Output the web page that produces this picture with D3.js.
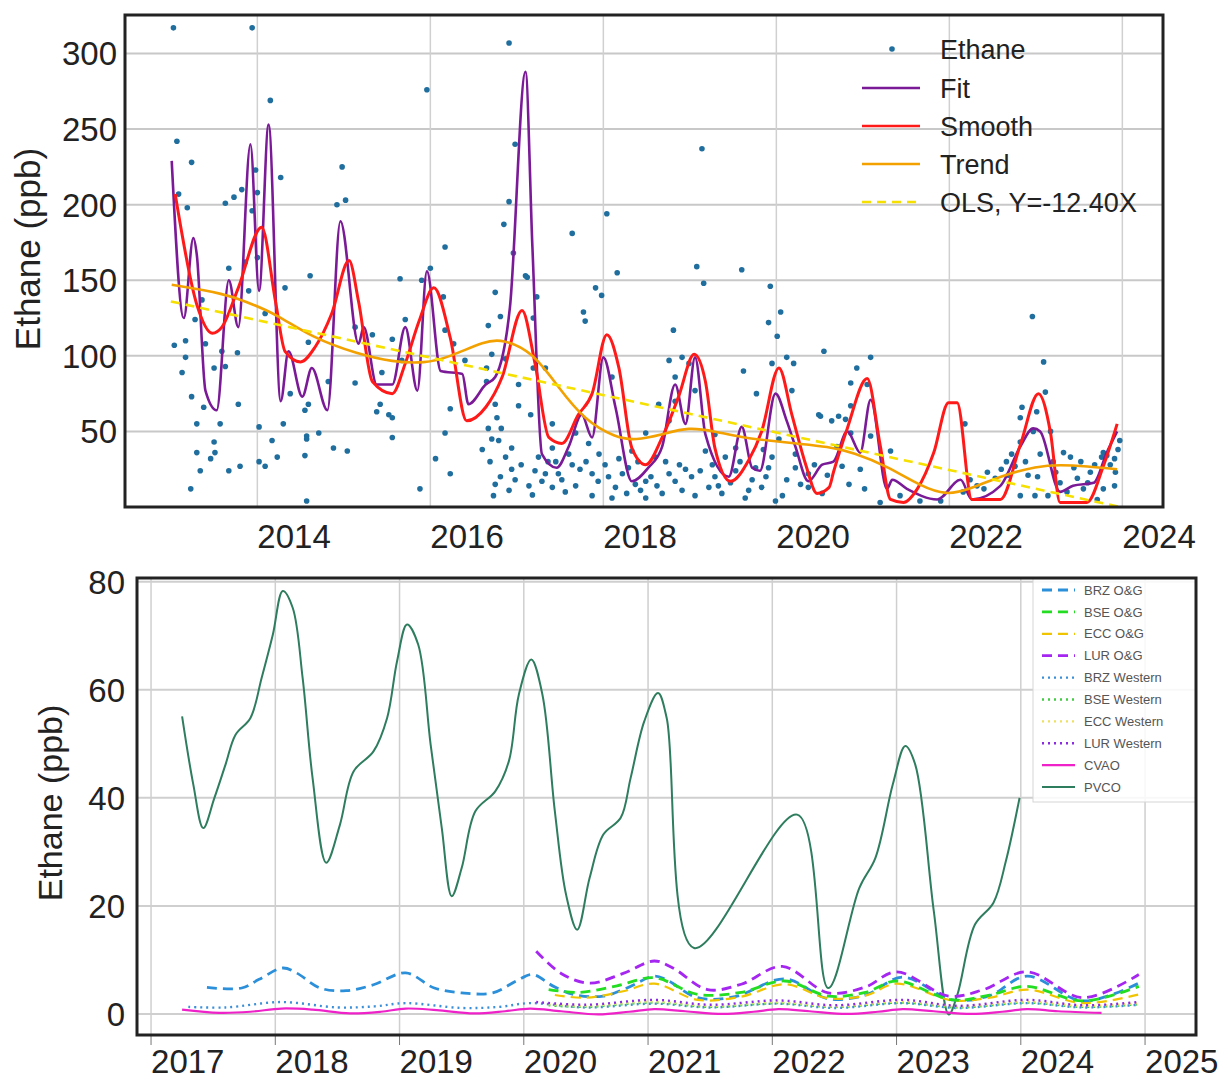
<!DOCTYPE html>
<html><head><meta charset="utf-8">
<script src="https://cdn.jsdelivr.net/npm/d3@7"></script>
<style>
html,body{margin:0;padding:0;background:#fff;}
svg{display:block;font-family:"Liberation Sans",Arial,sans-serif;}
</style></head>
<body>
<svg id="chart" width="1228" height="1082"></svg>
<script>
// ---------- TOP PANEL DATA ----------
const topYTicks = [50, 100, 150, 200, 250, 300];
const topXTicks = [2014, 2016, 2018, 2020, 2022, 2024];
const topLegend = ["Ethane", "Fit", "Smooth", "Trend", "OLS, Y=-12.40X"];

const ethaneObs = [
[2013.03,317],[2013.94,317],[2014.15,269],[2015.96,276],[2013.07,242],[2013.24,228],[2014.27,218],[2014.98,225],[2013.09,207],[2013.19,198],[2013.63,201],[2013.73,205],[2013.82,210],[2013.98,223],[2014.00,208],[2014.92,200],[2015.02,203],[2013.94,196],[2016.17,172],[2014.61,153],[2015.65,151],[2013.67,158],[2013.86,162],[2014.00,165],[2015.90,150],[2016.00,158],[2014.32,145],[2013.36,137],[2013.90,143],[2016.15,139],[2014.09,128],[2015.71,124],[2013.28,124],[2015.13,119],[2015.33,114],[2016.17,117],[2013.04,107],[2013.17,110],[2013.17,99],[2013.40,108],[2013.59,103],[2013.77,102],[2014.59,109],[2015.56,111],[2016.27,108],[2016.40,97],[2013.13,89],[2013.50,92],[2013.63,93],[2014.82,83],[2015.13,82],[2015.44,89],[2015.67,97],[2013.24,73],[2013.38,66],[2013.78,68],[2014.38,75],[2014.59,68],[2014.55,64],[2015.42,68],[2015.38,63],[2015.52,61],[2015.56,59],[2016.23,65],[2013.30,55],[2013.57,55],[2014.02,53],[2014.30,55],[2014.71,49],[2016.17,49],[2013.50,43],[2014.17,44],[2014.57,47],[2014.57,45],[2014.88,39],[2015.04,37],[2015.56,46],[2013.30,36],[2013.51,36],[2013.46,32],[2014.55,34],[2014.23,33],[2013.34,24],[2013.67,24],[2013.80,27],[2014.02,30],[2014.09,27],[2016.06,32],[2013.23,12],[2015.88,12],[2016.23,22],[2014.57,4],
[2016.91,307],[2016.98,240],[2019.14,237],[2016.91,202],[2016.85,187],[2018.04,194],[2017.64,181],[2016.96,168],[2018.16,155],[2019.08,159],[2019.60,157],[2017.10,153],[2017.12,152],[2019.16,148],[2019.93,146],[2016.75,142],[2017.91,145],[2017.98,140],[2017.23,139],[2016.67,120],[2016.81,126],[2017.19,125],[2017.77,129],[2017.79,123],[2020.05,129],[2019.91,122],[2018.81,117],[2020.01,113],[2016.71,101],[2016.87,98],[2018.76,97],[2018.91,99],[2018.99,95],[2020.12,99],[2020.20,95],[2019.95,95],[2020.55,103],[2019.62,90],[2016.65,92],[2017.02,81],[2017.19,92],[2017.33,92],[2016.65,83],[2018.10,86],[2018.83,86],[2019.77,75],[2020.18,77],[2016.75,68],[2017.02,67],[2017.16,61],[2016.77,59],[2016.67,52],[2018.64,68],[2018.83,70],[2019.06,77],[2018.76,57],[2020.49,61],[2020.64,57],[2016.71,45],[2016.79,44],[2017.41,55],[2017.68,49],[2018.49,49],[2019.29,48],[2020.03,45],[2016.87,33],[2016.94,39],[2017.25,33],[2017.41,39],[2017.60,35],[2017.83,42],[2018.18,32],[2018.33,37],[2018.60,33],[2019.18,37],[2019.41,33],[2019.53,39],[2019.95,33],[2020.22,35],[2016.94,25],[2017.21,24],[2017.33,22],[2017.48,22],[2017.64,28],[2017.87,22],[2018.06,20],[2018.29,26],[2018.49,17],[2018.76,22],[2018.95,25],[2019.29,20],[2019.53,24],[2019.76,26],[2019.91,26],[2020.22,26],[2020.37,22],[2016.75,15],[2016.91,11],[2017.14,14],[2017.29,17],[2017.41,13],[2017.68,14],[2017.94,17],[2018.14,13],[2018.27,9],[2018.43,11],[2018.68,9],[2018.91,11],[2019.06,7.5],[2019.22,13],[2019.37,9],[2019.68,11],[2019.83,13],[2019.99,4],[2020.07,7.5],[2020.37,13],[2020.53,9],[2016.73,7.5],[2017.87,7.5],[2018.49,6],[2018.83,17],
[2016.69,30],[2016.81,20],[2016.98,18],[2017.05,28],[2017.18,8],[2017.36,30],[2017.52,18],[2017.56,10],[2017.73,25],[2017.80,30],[2018.02,28],[2018.10,6],[2018.22,22],[2018.37,15],[2018.55,20],[2018.62,14],[2018.72,30],[2018.88,28],[2019.02,20],[2019.12,24],[2019.26,28],[2019.33,14],[2019.47,16],[2019.58,30],[2019.64,6],[2019.72,18],[2019.88,20],[2020.12,18],[2020.28,15],[2020.44,28],[2017.45,30],[2017.95,35],[2018.40,30],[2019.85,38],[2016.60,38],[2016.82,52],
[2022.96,126],[2023.09,96],[2021.09,99],[2020.93,92],[2020.86,82],[2021.05,81],[2020.86,67],[2020.72,60],[2020.80,58],[2020.51,60],[2021.09,47],[2020.86,49],[2021.32,37],[2022.18,55],[2022.84,66],[2022.82,59],[2023.01,63],[2023.11,76],[2022.97,50],[2023.17,50],[2023.05,35],[2022.82,43],[2022.66,30],[2023.32,36],[2023.40,33],[2023.78,36],[2023.82,34],[2023.76,33],[2023.91,32],[2023.97,44],[2023.92,23],[2023.91,14],[2020.97,25],[2020.76,27],[2020.84,15],[2020.59,21],[2021.43,7.5],[2021.20,3],[2022.16,10],[2022.32,14],[2022.44,23],[2022.53,19],[2022.68,21],[2022.76,27],[2022.91,21],[2022.99,7.5],[2023.23,23],[2023.28,16],[2023.36,10],[2023.48,19],[2023.55,12],[2023.63,23],[2023.71,5],[2023.78,12],[2023.14,7.5],[2022.82,7.5],[2021.66,4],[2021.90,4],
[2022.60,25],[2022.72,35],[2022.88,30],[2023.02,20],[2023.20,30],[2023.44,26],[2023.52,30],[2023.60,16],[2023.68,28],[2023.86,28],[2023.95,38],[2022.40,12],[2022.24,18],[2021.02,12],[2020.70,40]
];

const fitCurve = [[2013.01,229],[2013.15,125],[2013.26,178],[2013.30,167],[2013.40,77],[2013.53,64],[2013.67,150],[2013.78,119],[2013.92,240],[2014.02,143],[2014.13,253],[2014.27,70],[2014.36,103],[2014.52,73],[2014.63,92],[2014.81,64],[2014.96,189],[2015.17,108],[2015.23,119],[2015.38,81],[2015.56,81],[2015.71,119],[2015.85,77],[2015.96,156],[2016.12,90],[2016.37,88],[2016.44,68],[2016.64,81],[2016.75,86],[2016.92,132],[2017.10,288],[2017.18,172],[2017.29,35],[2017.46,26],[2017.60,40],[2017.75,61],[2017.87,46],[2018.00,99],[2018.14,66],[2018.33,17],[2018.52,26],[2018.68,40],[2018.83,81],[2018.95,55],[2019.06,99],[2019.18,48],[2019.45,20],[2019.60,53],[2019.72,26],[2019.81,24],[2019.99,75],[2020.12,57],[2020.22,40],[2020.37,17],[2020.53,28],[2020.66,30],[2020.82,50],[2020.97,36],[2021.09,71],[2021.28,12],[2021.34,18],[2021.51,12],[2021.86,5],[2022.13,18],[2022.26,5],[2022.59,14],[2022.82,40],[2022.97,52],[2023.05,50],[2023.28,10],[2023.43,14],[2023.67,16],[2023.82,36],[2023.94,50]];

const smoothCurve = [[2013.05,207],[2013.30,134],[2013.48,115],[2013.59,119],[2013.78,145],[2014.05,185],[2014.21,136],[2014.32,103],[2014.50,96],[2014.67,106],[2014.86,128],[2015.06,163],[2015.17,136],[2015.33,83],[2015.56,75],[2015.71,95],[2015.87,123],[2016.04,145],[2016.23,112],[2016.42,57],[2016.64,66],[2016.83,86],[2017.06,130],[2017.21,95],[2017.37,46],[2017.52,42],[2017.71,61],[2017.87,75],[2018.04,114],[2018.18,92],[2018.33,39],[2018.49,28],[2018.68,46],[2018.87,73],[2019.05,101],[2019.18,83],[2019.29,39],[2019.47,17],[2019.68,31],[2019.83,50],[2020.03,92],[2020.18,61],[2020.34,28],[2020.47,9],[2020.61,13],[2020.66,23],[2020.82,52],[2021.05,85],[2021.20,41],[2021.32,5],[2021.47,3],[2021.63,12],[2021.82,36],[2021.99,69],[2022.09,69],[2022.26,5],[2022.59,5],[2022.82,41],[2023.03,75],[2023.17,49],[2023.28,3],[2023.59,3],[2023.78,27],[2023.94,55]];

const trendCurve = [[2013.01,147],[2013.63,141],[2013.86,136],[2014.21,128],[2014.63,112],[2015.17,101],[2015.56,96],[2015.94,95],[2016.21,99],[2016.64,110],[2016.83,111],[2017.18,103],[2017.48,79],[2017.79,57],[2018.14,46],[2018.37,44],[2018.68,48],[2018.99,53],[2019.29,50],[2019.60,46],[2019.91,44],[2020.22,42],[2020.60,40],[2020.89,36],[2021.28,27],[2021.66,14],[2021.97,7.5],[2022.24,12],[2022.62,21],[2023.01,27],[2023.28,28],[2023.59,27],[2023.94,25]];

const olsLine = [[2013.00,136],[2023.95,0.3]];

// ---------- BOTTOM PANEL DATA ----------
const botYTicks = [0, 20, 40, 60, 80];
const botXTicks = [2017, 2018, 2019, 2020, 2021, 2022, 2023, 2024, 2025];

const brzOG = [[2017.45,4.9],[2017.73,4.8],[2017.87,6.4],[2018.06,8.5],[2018.17,7.6],[2018.36,4.8],[2018.57,4.3],[2018.79,5.4],[2019.05,7.6],[2019.28,4.8],[2019.50,3.9],[2019.75,3.9],[2019.94,6.1],[2020.07,7.3],[2020.24,5.1],[2020.40,3.6],[2020.64,3.3],[2020.83,4.8],[2021.05,7],[2021.15,6.3],[2021.40,3],[2021.70,3.2],[2022.10,6.5],[2022.45,2.8],[2022.75,3.5],[2023.05,6.8],[2023.45,2.6],[2023.75,3.4],[2024.05,7],[2024.50,2.4],[2024.95,5.7]];
const bseOG = [[2020.20,4.5],[2020.45,4],[2020.75,5.2],[2021.05,6.7],[2021.40,3.6],[2021.75,4],[2022.10,6.1],[2022.45,3.3],[2022.75,4],[2023.00,6.1],[2023.45,2.6],[2023.75,3.5],[2024.05,5.1],[2024.50,2.4],[2024.95,5.1]];
const eccOG = [[2020.25,3.5],[2020.50,3],[2020.80,4.2],[2021.05,5.6],[2021.40,2.6],[2021.75,3.2],[2022.10,5.5],[2022.45,2.9],[2022.75,3.4],[2023.00,5.6],[2023.45,2.5],[2023.75,3],[2024.05,4.5],[2024.50,2],[2024.95,3.6]];
const lurOG = [[2020.10,11.6],[2020.30,7.5],[2020.53,5.7],[2020.80,7.5],[2021.05,9.8],[2021.20,8.5],[2021.48,4.5],[2021.75,5.5],[2022.08,8.8],[2022.45,3.9],[2022.75,5],[2023.00,7.8],[2023.42,3.3],[2023.70,4.5],[2024.05,7.8],[2024.50,3],[2024.95,7.3]];
const brzWest = [[2017.30,1.3],[2017.60,1.2],[2018.05,2.2],[2018.50,1.2],[2018.80,1.4],[2019.05,2],[2019.50,1.1],[2019.80,1.3],[2020.05,2],[2020.50,1.2],[2021.05,1.9],[2021.50,1.2],[2022.05,1.9],[2022.50,1.1],[2023.05,2],[2023.50,1.1],[2024.05,2],[2024.50,1.2],[2024.95,1.7]];
const bseWest = [[2020.20,1.6],[2020.50,1.3],[2021.05,2.1],[2021.50,1.3],[2022.05,2],[2022.50,1.3],[2023.05,2.1],[2023.50,1.2],[2024.05,2.1],[2024.50,1.3],[2024.95,1.8]];
const eccWest = [[2020.20,1.8],[2020.50,1.5],[2021.05,2.3],[2021.50,1.5],[2022.05,2.2],[2022.50,1.4],[2023.05,2.3],[2023.50,1.4],[2024.05,2.3],[2024.50,1.5],[2024.95,2]];
const lurWest = [[2020.10,2.2],[2020.50,1.7],[2021.05,2.6],[2021.50,1.7],[2022.05,2.5],[2022.50,1.6],[2023.05,2.6],[2023.50,1.5],[2024.05,2.6],[2024.50,1.6],[2024.95,2.2]];
const cvao = [[2017.25,0.8],[2017.55,0.2],[2017.80,0.4],[2018.05,1],[2018.30,0.8],[2018.60,0.1],[2018.85,0.4],[2019.05,1.0],[2019.30,0.7],[2019.60,0.1],[2019.85,0.5],[2020.05,1],[2020.30,0.5],[2020.60,-0.1],[2020.85,0.4],[2021.05,0.9],[2021.30,0.5],[2021.60,0],[2021.85,0.4],[2022.05,0.9],[2022.30,0.5],[2022.60,0],[2022.85,0.4],[2023.05,0.9],[2023.30,0.5],[2023.60,0],[2023.85,0.4],[2024.05,0.9],[2024.30,0.5],[2024.65,0.2]];
const pvco = [[2017.25,55.1],[2017.34,42.5],[2017.42,34.4],[2017.51,40],[2017.60,46.2],[2017.68,51.7],[2017.80,54.8],[2017.89,62.2],[2017.98,70.2],[2018.06,78.3],[2018.14,75.2],[2018.22,62.2],[2018.30,43.7],[2018.41,28],[2018.52,35],[2018.63,44.9],[2018.79,48.6],[2018.90,54.8],[2018.98,65.3],[2019.06,72.1],[2019.15,68.4],[2019.25,49.9],[2019.34,34.4],[2019.42,21.8],[2019.50,27],[2019.61,37.5],[2019.77,41.2],[2019.88,46.8],[2019.96,59.1],[2020.06,65.6],[2020.15,59.1],[2020.25,37.5],[2020.34,22.1],[2020.43,15.6],[2020.53,25.2],[2020.64,33.2],[2020.78,36.3],[2020.86,43.7],[2020.97,54.2],[2021.08,59.4],[2021.15,54.8],[2021.37,12.2],[2022.20,36.9],[2022.45,4.8],[2022.70,23.3],[2022.83,28.9],[2022.97,42.5],[2023.07,49.6],[2023.15,46.2],[2023.30,19],[2023.42,-0.1],[2023.49,3.6],[2023.63,16.5],[2023.78,20.6],[2023.88,28.3],[2023.99,40]];

const botSeriesNames = ["BRZ O&G","BSE O&G","ECC O&G","LUR O&G","BRZ Western","BSE Western","ECC Western","LUR Western","CVAO","PVCO"];
const botSeriesData = [brzOG, bseOG, eccOG, lurOG, brzWest, bseWest, eccWest, lurWest, cvao, pvco];

// ---------- DRAW ----------
const svg = d3.select("#chart");
const FONT = "'Liberation Sans', Arial, sans-serif";
const TICKFS = 33;

// ===== Top panel =====
const T = {l:125, t:15, r:1163, b:507};
const xT = d3.scaleLinear().domain([2012.47, 2024.47]).range([T.l, T.r]);
const yT = d3.scaleLinear().domain([0, 325.5]).range([T.b, T.t]);
const gT = svg.append("g");
gT.append("defs").append("clipPath").attr("id","clipT").append("rect")
  .attr("x",T.l).attr("y",T.t).attr("width",T.r-T.l).attr("height",T.b-T.t);

gT.append("g").selectAll("line").data(topYTicks).join("line")
  .attr("x1",T.l).attr("x2",T.r).attr("y1",d=>yT(d)).attr("y2",d=>yT(d))
  .attr("stroke","#c8c8c8").attr("stroke-width",2);
gT.append("g").selectAll("line").data(topXTicks).join("line")
  .attr("y1",T.t).attr("y2",T.b).attr("x1",d=>xT(d)).attr("x2",d=>xT(d))
  .attr("stroke","#d0d0d0").attr("stroke-width",1.5);

const plotT = gT.append("g").attr("clip-path","url(#clipT)");
plotT.append("g").selectAll("circle").data(ethaneObs).join("circle")
  .attr("cx",d=>xT(d[0])).attr("cy",d=>yT(d[1])).attr("r",2.8)
  .attr("fill","#1f6e9e");

const lineT = d3.line().x(d=>xT(d[0])).y(d=>yT(d[1]));
plotT.append("path").datum(fitCurve).attr("d",lineT.curve(d3.curveMonotoneX))
  .attr("fill","none").attr("stroke","#7a1a96").attr("stroke-width",2.6);
plotT.append("path").datum(smoothCurve).attr("d",lineT.curve(d3.curveMonotoneX))
  .attr("fill","none").attr("stroke","#ff1a1a").attr("stroke-width",3);
plotT.append("path").datum(trendCurve).attr("d",lineT.curve(d3.curveBasis))
  .attr("fill","none").attr("stroke","#f2a100").attr("stroke-width",2.6);
plotT.append("path").datum(olsLine).attr("d",lineT.curve(d3.curveLinear))
  .attr("fill","none").attr("stroke","#f5e000").attr("stroke-width",2.6).attr("stroke-dasharray","9,6");

gT.append("g").selectAll("text").data(topYTicks).join("text")
  .attr("x",T.l-8).attr("y",d=>yT(d)).attr("dy","0.36em").attr("text-anchor","end")
  .attr("font-size",TICKFS).attr("fill","#222").style("font-family",FONT).text(d=>d);
gT.append("g").selectAll("text").data(topXTicks).join("text")
  .attr("x",d=>xT(d)).attr("y",548).attr("text-anchor","start")
  .attr("font-size",TICKFS).attr("fill","#222").style("font-family",FONT).text(d3.format("d"));
gT.append("text").attr("transform","translate(40,249) rotate(-90)").attr("text-anchor","middle")
  .attr("font-size",35).attr("fill","#222").style("font-family",FONT).text("Ethane (ppb)");
gT.append("rect").attr("x",T.l).attr("y",T.t).attr("width",T.r-T.l).attr("height",T.b-T.t)
  .attr("fill","none").attr("stroke","#222").attr("stroke-width",3);

const legT = gT.append("g");
const legTy = [49, 88, 126, 164, 202];
const legStyles = [
  {type:"dot"},
  {stroke:"#7a1a96", dash:null},
  {stroke:"#ff1a1a", dash:null},
  {stroke:"#f2a100", dash:null},
  {stroke:"#f5e000", dash:"9,6"}
];
topLegend.forEach((name,i)=>{
  const y = legTy[i];
  const s = legStyles[i];
  if (s.type==="dot") {
    legT.append("circle").attr("cx",892).attr("cy",y).attr("r",2.8).attr("fill","#1f6e9e");
  } else {
    legT.append("line").attr("x1",862).attr("x2",920).attr("y1",y).attr("y2",y)
      .attr("stroke",s.stroke).attr("stroke-width",2.6).attr("stroke-dasharray",s.dash);
  }
  legT.append("text").attr("x",940).attr("y",y).attr("dy","0.36em")
    .attr("font-size",27).attr("fill","#222").style("font-family",FONT).text(name);
});

// ===== Bottom panel =====
const B = {l:137, t:578, r:1196, b:1035};
const xB = d3.scaleLinear().domain([2016.887, 2025.41]).range([B.l, B.r]);
const yB = d3.scaleLinear().domain([-3.9, 80.7]).range([B.b, B.t]);
const gB = svg.append("g");
gB.append("defs").append("clipPath").attr("id","clipB").append("rect")
  .attr("x",B.l).attr("y",B.t).attr("width",B.r-B.l).attr("height",B.b-B.t);

gB.append("g").selectAll("line").data(botYTicks).join("line")
  .attr("x1",B.l).attr("x2",B.r).attr("y1",d=>yB(d)).attr("y2",d=>yB(d))
  .attr("stroke","#cfcfcf").attr("stroke-width",2);
gB.append("g").selectAll("line").data(botXTicks).join("line")
  .attr("y1",B.t).attr("y2",B.b).attr("x1",d=>xB(d)).attr("x2",d=>xB(d))
  .attr("stroke","#cfcfcf").attr("stroke-width",1.5);
gB.append("g").selectAll("line").data(botXTicks).join("line")
  .attr("y1",B.b).attr("y2",B.b+10).attr("x1",d=>xB(d)).attr("x2",d=>xB(d))
  .attr("stroke","#777").attr("stroke-width",1);

const botStyles = [
  {c:"#2b8fd9", w:2.8, dash:"10,6"},
  {c:"#22dd22", w:2.8, dash:"10,6"},
  {c:"#f0c400", w:2.2, dash:"10,6"},
  {c:"#a526f0", w:2.8, dash:"10,6"},
  {c:"#3a8fd8", w:2.4, dash:"2,4"},
  {c:"#44cc44", w:2.4, dash:"2,4"},
  {c:"#eee060", w:2.2, dash:"2,4"},
  {c:"#8a2be2", w:2.4, dash:"2,4"},
  {c:"#ee22c8", w:2.2, dash:null},
  {c:"#2e7d5e", w:2.0, dash:null}
];
const plotB = gB.append("g").attr("clip-path","url(#clipB)");
const lineB = d3.line().x(d=>xB(d[0])).y(d=>yB(d[1])).curve(d3.curveCatmullRom.alpha(0.5));
const order = [9,0,2,1,3,4,5,6,7,8];
order.forEach(i=>{
  plotB.append("path").datum(botSeriesData[i]).attr("d",lineB)
    .attr("fill","none").attr("stroke",botStyles[i].c).attr("stroke-width",botStyles[i].w)
    .attr("stroke-dasharray",botStyles[i].dash);
});

gB.append("g").selectAll("text").data(botYTicks).join("text")
  .attr("x",B.l-12).attr("y",d=>yB(d)).attr("dy","0.36em").attr("text-anchor","end")
  .attr("font-size",TICKFS).attr("fill","#222").style("font-family",FONT).text(d=>d);
gB.append("g").selectAll("text").data(botXTicks).join("text")
  .attr("x",d=>xB(d)).attr("y",1073).attr("text-anchor","start")
  .attr("font-size",TICKFS).attr("fill","#222").style("font-family",FONT).text(d3.format("d"));
gB.append("text").attr("transform","translate(62,803) rotate(-90)").attr("text-anchor","middle")
  .attr("font-size",34).attr("fill","#222").style("font-family",FONT).text("Ethane (ppb)");

const legB = gB.append("g");
legB.append("rect").attr("x",1033).attr("y",B.t).attr("width",B.r-1033).attr("height",224)
  .attr("fill","#fff").attr("fill-opacity",0.85).attr("stroke","#d5d5d5").attr("stroke-width",1);
botSeriesNames.forEach((name,i)=>{
  const y = 590 + i*21.9;
  legB.append("line").attr("x1",1042).attr("x2",1075).attr("y1",y).attr("y2",y)
    .attr("stroke",botStyles[i].c).attr("stroke-width",botStyles[i].w)
    .attr("stroke-dasharray",botStyles[i].dash);
  legB.append("text").attr("x",1084).attr("y",y).attr("dy","0.36em")
    .attr("font-size",13).attr("fill","#555").style("font-family",FONT).text(name);
});

gB.append("rect").attr("x",B.l).attr("y",B.t).attr("width",B.r-B.l).attr("height",B.b-B.t)
  .attr("fill","none").attr("stroke","#222").attr("stroke-width",3);
</script>
</body></html>
